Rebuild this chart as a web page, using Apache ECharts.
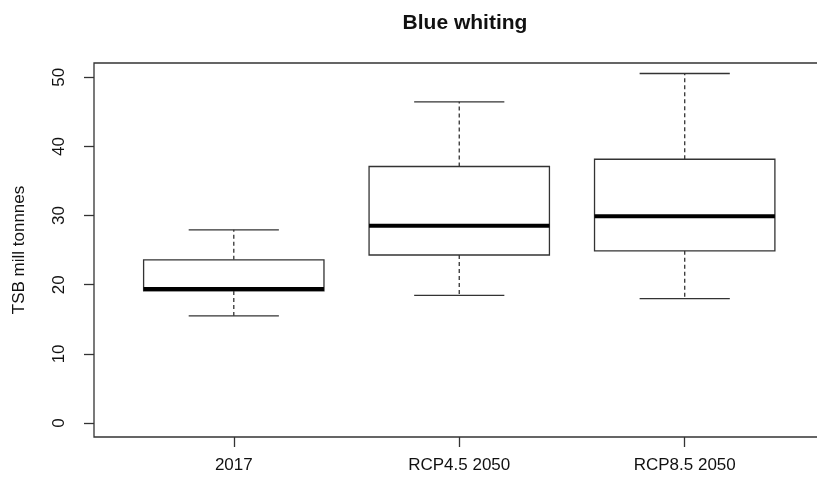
<!DOCTYPE html>
<html>
<head>
<meta charset="utf-8">
<script src="https://cdn.jsdelivr.net/npm/echarts@6/dist/echarts.min.js"></script>
<style>
html,body{margin:0;padding:0;background:#fff;}
#chart{width:817px;height:479px;}
</style>
</head>
<body>
<div id="chart"></div>
<script>
const categories = ['2017', 'RCP4.5 2050', 'RCP8.5 2050'];
const whiskerLow = [15.5, 18.45, 18.0];
const q1 = [19.1, 24.3, 24.9];
const median = [19.4, 28.55, 29.9];
const q3 = [23.6, 37.1, 38.15];
const whiskerHigh = [27.95, 46.45, 50.55];
const yTicks = [0, 10, 20, 30, 40, 50];
const xTicks = [1, 2, 3];

const rows = categories.map((c, i) => [i + 1, whiskerLow[i], q1[i], median[i], q3[i], whiskerHigh[i]]);

const FONT = 'Liberation Sans, Arial, Helvetica, sans-serif';
const LINE = '#333';

const chart = echarts.init(document.getElementById('chart'), null, {renderer: 'canvas'});

function renderItem(params, api) {
  const x = api.value(0);
  const lo = api.value(1), a = api.value(2), m = api.value(3), b = api.value(4), hi = api.value(5);
  const bw = 0.4, cw = 0.2;
  const pBL = api.coord([x - bw, a]);
  const pTR = api.coord([x + bw, b]);
  const pMedL = api.coord([x - bw, m]);
  const pMedR = api.coord([x + bw, m]);
  const pLo = api.coord([x, lo]);
  const pHi = api.coord([x, hi]);
  const pA = api.coord([x, a]);
  const pB = api.coord([x, b]);
  const capLoL = api.coord([x - cw, lo]);
  const capLoR = api.coord([x + cw, lo]);
  const capHiL = api.coord([x - cw, hi]);
  const capHiR = api.coord([x + cw, hi]);
  const dashStyle = {stroke: LINE, lineWidth: 1.3, lineDash: [4, 3], fill: null};
  const solid = {stroke: LINE, lineWidth: 1.3, fill: null};
  return {
    type: 'group',
    children: [
      {type: 'line', shape: {x1: pB[0], y1: pB[1], x2: pHi[0], y2: pHi[1]}, style: dashStyle},
      {type: 'line', shape: {x1: pA[0], y1: pA[1], x2: pLo[0], y2: pLo[1]}, style: dashStyle},
      {type: 'line', shape: {x1: capHiL[0], y1: capHiL[1], x2: capHiR[0], y2: capHiR[1]}, style: solid},
      {type: 'line', shape: {x1: capLoL[0], y1: capLoL[1], x2: capLoR[0], y2: capLoR[1]}, style: solid},
      {type: 'rect', shape: {x: pBL[0], y: pTR[1], width: pTR[0] - pBL[0], height: pBL[1] - pTR[1]},
        style: {stroke: LINE, lineWidth: 1.3, fill: '#fff'}},
      {type: 'line', shape: {x1: pMedL[0], y1: pMedL[1], x2: pMedR[0], y2: pMedR[1]},
        style: {stroke: '#000', lineWidth: 4, fill: null}}
    ]
  };
}

chart.setOption({
  backgroundColor: '#fff',
  animation: false,
  title: {
    text: 'Blue whiting',
    left: 460,
    textAlign: 'center',
    top: 8,
    textStyle: {fontFamily: FONT, fontWeight: 'bold', fontSize: 21, color: '#111'}
  },
  grid: {
    left: 94, top: 63, bottom: 42, right: -7.5,
    show: true, borderColor: LINE, borderWidth: 1.3, backgroundColor: 'transparent',
    outerBoundsMode: 'none', containLabel: false
  },
  xAxis: {
    type: 'value', min: 0.38, max: 3.62,
    axisLine: {show: false, onZero: false},
    splitLine: {show: false},
    axisTick: {show: true, inside: false, length: 10, customValues: xTicks, lineStyle: {color: LINE, width: 1.3}},
    axisLabel: {
      show: true, customValues: xTicks, margin: 20,
      formatter: v => categories[Math.round(v) - 1] || '',
      fontFamily: FONT, fontSize: 17, color: '#111'
    }
  },
  yAxis: {
    type: 'value', min: -2.02, max: 52.07,
    name: 'TSB mill tonnnes', nameLocation: 'middle', nameRotate: 90, nameGap: 66,
    nameTextStyle: {fontFamily: FONT, fontSize: 17, color: '#111'},
    axisLine: {show: false, onZero: false},
    splitLine: {show: false},
    axisTick: {show: true, inside: false, length: 10, customValues: yTicks, lineStyle: {color: LINE, width: 1.3}},
    axisLabel: {
      show: true, customValues: yTicks, rotate: 90, margin: 26,
      fontFamily: FONT, fontSize: 17, color: '#111'
    }
  },
  series: [{
    type: 'custom',
    renderItem: renderItem,
    encode: {x: 0, y: [1, 2, 3, 4, 5]},
    data: rows,
    clip: false
  }]
});
</script>
</body>
</html>
